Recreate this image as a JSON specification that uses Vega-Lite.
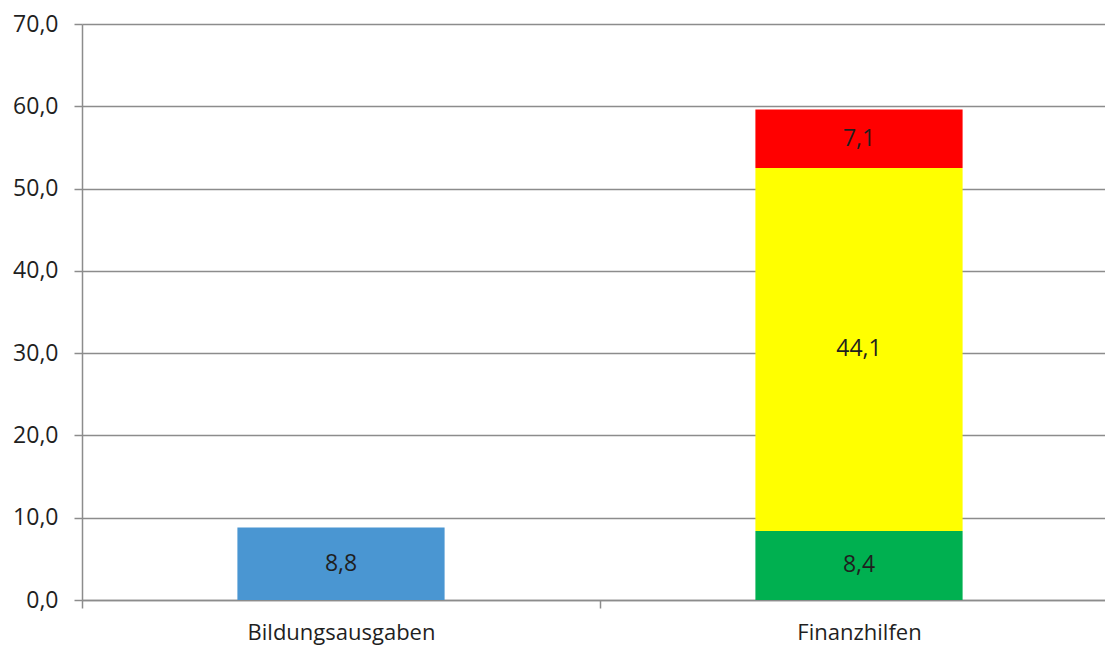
{
  "$schema": "https://vega.github.io/schema/vega-lite/v6.json",
  "autosize": {"type": "none"},
  "padding": {"left": 82, "top": 24, "right": 0, "bottom": 45},
  "width": 1036,
  "height": 576,
  "background": "white",
  "config": {
    "locale": {"number": {"decimal": ",", "thousands": ".", "grouping": [3], "currency": ["", " €"]}},
    "view": {"stroke": null},
    "font": "Open Sans"
  },
  "data": {
    "values": [
      {"kategorie": "Bildungsausgaben", "teil": "Bildung", "wert": 8.8, "reihe": 0},
      {"kategorie": "Finanzhilfen", "teil": "Grün", "wert": 8.4, "reihe": 1},
      {"kategorie": "Finanzhilfen", "teil": "Gelb", "wert": 44.1, "reihe": 2},
      {"kategorie": "Finanzhilfen", "teil": "Rot", "wert": 7.1, "reihe": 3}
    ]
  },
  "transform": [
    {"stack": "wert", "groupby": ["kategorie"], "sort": [{"field": "reihe", "order": "ascending"}], "as": ["y0", "y1"]},
    {"calculate": "(datum.y0 + datum.y1) / 2", "as": "ymid"}
  ],
  "encoding": {
    "x": {
      "field": "kategorie",
      "type": "nominal",
      "sort": ["Bildungsausgaben", "Finanzhilfen"],
      "scale": {"paddingInner": 0.6, "paddingOuter": 0.3},
      "axis": {
        "title": null,
        "labelAngle": 0,
        "labelFont": "Open Sans",
        "labelFontWeight": 400,
        "labelFontSize": 22,
        "labelColor": "#1f1f1f",
        "labelPadding": 14,
        "labelLimit": 0,
        "labelOffset": 259,
        "tickOffset": -259,
        "domainColor": "#8c8c8c",
        "domainWidth": 1.5,
        "tickColor": "#8c8c8c",
        "tickWidth": 1.5,
        "tickSize": 8,
        "grid": false
      }
    }
  },
  "layer": [
    {
      "mark": {"type": "bar"},
      "encoding": {
        "y": {
          "field": "y0",
          "type": "quantitative",
          "scale": {"domain": [0, 70], "nice": false},
          "axis": {
            "title": null,
            "values": [0, 10, 20, 30, 40, 50, 60, 70],
            "format": ".1f",
            "labelFont": "Open Sans",
            "labelFontWeight": 400,
            "labelFontSize": 23,
            "labelColor": "#1f1f1f",
            "labelPadding": 16,
            "domainColor": "#8c8c8c",
            "domainWidth": 1.5,
            "tickColor": "#8c8c8c",
            "tickWidth": 1.5,
            "tickSize": 8,
            "grid": true,
            "gridColor": "#8c8c8c",
            "gridWidth": 1.5
          }
        },
        "y2": {"field": "y1"},
        "color": {
          "field": "teil",
          "type": "nominal",
          "scale": {"domain": ["Bildung", "Grün", "Gelb", "Rot"], "range": ["#4a96d2", "#00b050", "#ffff00", "#ff0000"]},
          "legend": null
        }
      }
    },
    {
      "mark": {"type": "text", "font": "Open Sans", "fontWeight": 400, "fontSize": 23, "color": "#1f1f1f", "baseline": "middle"},
      "encoding": {
        "y": {"field": "ymid", "type": "quantitative"},
        "text": {"field": "wert", "type": "quantitative", "format": ".1f"}
      }
    }
  ]
}
